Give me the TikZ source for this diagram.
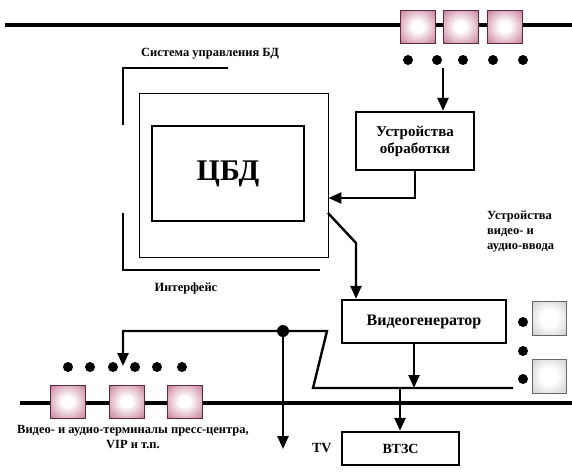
\documentclass[tikz,border=0pt]{standalone}
\usepackage{fontspec}
\setmainfont{Liberation Serif}
\usetikzlibrary{arrows.meta,positioning}
\definecolor{termpink}{RGB}{160,72,105}
\definecolor{termmid}{RGB}{215,160,180}
\definecolor{termedge}{RGB}{95,40,62}
\definecolor{inpgray}{RGB}{185,185,185}
\pgfdeclareradialshading{termshade}{\pgfpoint{0bp}{0bp}}{color(0bp)=(white); color(8bp)=(white); color(28bp)=(termmid); color(46bp)=(termpink); color(70bp)=(termpink)}
\pgfdeclareradialshading{inpshade}{\pgfpoint{0bp}{0bp}}{color(0bp)=(white); color(12bp)=(white); color(46bp)=(inpgray); color(70bp)=(inpgray)}

\begin{document}
\begin{tikzpicture}[x=1pt,y=-1pt,>={Triangle[width=11pt,length=13pt]},
  box/.style={draw,line width=2.4pt,inner sep=0pt,align=center,font=\bfseries\fontsize{15}{17}\selectfont},
  term/.style={draw=termedge,line width=0.8pt,shading=termshade,minimum width=35pt,minimum height=33pt,inner sep=0pt},
  inp/.style={draw=gray!80!black,line width=0.8pt,shading=inpshade,minimum size=34pt,inner sep=0pt},
  lbl/.style={font=\bfseries\fontsize{12.5}{15}\selectfont,inner sep=0pt},
  bus/.style={line width=3.6pt},
  conn/.style={line width=2.4pt}]
  \useasboundingbox (0,0) rectangle (572,475);

  % bus lines
  \coordinate (topL) at (5,25);
  \coordinate (topR) at (572,25);
  \coordinate (botL) at (20,403);
  \coordinate (botR) at (572,403);
  \draw[bus] (topL) -- (topR);
  \draw[bus] (botL) -- (botR);

  % terminals on the buses
  \node[term] (t1) at (417.5,26.5) {};
  \node[term] (t2) at (460.5,26.5) {};
  \node[term] (t3) at (504.5,26.5) {};
  \node[term] (b1) at (67.5,401.5) {};
  \node[term] (b2) at (126.5,401.5) {};
  \node[term] (b3) at (184.5,401.5) {};
  \foreach \x in {408,437,463,493,523} \fill (\x,60) circle (5pt);
  \foreach \x in {68,90,113,135,157,182} \fill (\x,367) circle (5pt);

  % video / audio input devices
  \node[inp] (in1) at (549,318) {};
  \node[inp] (in2) at (549,376) {};
  \foreach \y in {322,351,379} \fill (523,\y) circle (5pt);

  % database block
  \node[draw,line width=0.9pt,minimum width=189pt,minimum height=164pt] (iface) at (233.5,175) {};
  \node[box,minimum width=152pt,minimum height=95pt,font=\bfseries\fontsize{30}{32}\selectfont] (cbd) at (228,173.5) {ЦБД};
  \draw[conn] (123,125) -- (123,68) -- (228,68);
  \draw[conn] (123,213) -- (123,270) -- (320,270);
  \node[lbl] (sysname) at (210,54) {Система управления БД};
  \node[lbl] (ifname) at (186,288) {Интерфейс};

  % processing, generator, VTZS
  \node[box,minimum width=118pt,minimum height=58pt] (proc) at (415,141) {Устройства\\обработки};
  \node[box,minimum width=164pt,minimum height=43pt,font=\bfseries\fontsize{16}{18}\selectfont] (vgen) at (424,321.5) {Видеогенератор};
  \node[box,minimum width=117pt,minimum height=33pt,font=\bfseries\fontsize{14}{16}\selectfont] (vtzs) at (400.5,448.5) {ВТЗС};
  \node[lbl,font=\bfseries\fontsize{14}{16}\selectfont,left=9pt of vtzs] (tv) {TV};

  \node[lbl,align=left,anchor=north west] (inname) at (487,211) {Устройства\\видео- и\\аудио-ввода};
  \node[lbl,align=center] (termname) at (133,437) {Видео- и аудио-терминалы пресс-центра,\\VIP и т.п.};

  % connectors
  \coordinate (tdot) at (443,68);
  \draw[conn,->] (tdot) -- (tdot |- proc.north);
  \coordinate (pbend) at (415,198);
  \draw[conn,->] (proc.south -| pbend) -- (pbend) -- (iface.east |- pbend);
  \coordinate (d1) at (328,213);
  \coordinate (d2) at (356,243);
  \draw[conn,->] (d1) -- (d2) -- (d2 |- vgen.north);
  \coordinate (lowR) at (513,388);
  \coordinate (lowL) at (313,388);
  \coordinate (slantT) at (327,331);
  \coordinate (jn) at (283,331);
  \coordinate (termtop) at (123,331);
  \coordinate (termtip) at (123,366);
  \coordinate (tvtip) at (283,449);
  \coordinate (vgout) at (414,0);
  \coordinate (vtin) at (400,388);
  \draw[conn,->] (vgen.south -| vgout) -- (vgout |- lowL);
  \draw[conn,->] (lowR) -- (lowL) -- (slantT) -- (termtop) -- (termtip);
  \fill (jn) circle (6pt);
  \draw[conn,->] (jn) -- (tvtip);
  \draw[conn,->] (vtin) -- (vtin |- vtzs.north);
\end{tikzpicture}
\end{document}
